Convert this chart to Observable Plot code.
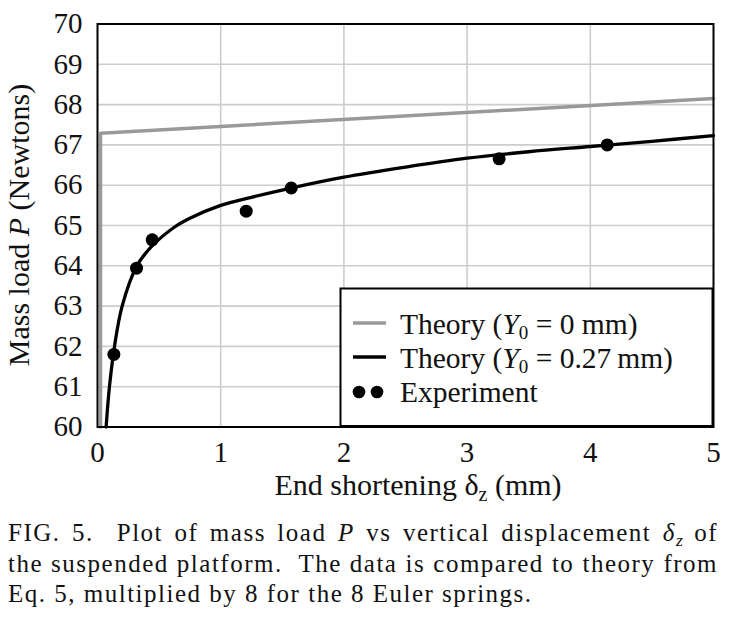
<!DOCTYPE html>
<html><head><meta charset="utf-8">
<script src="https://cdn.jsdelivr.net/npm/d3@7"></script>
<script src="https://cdn.jsdelivr.net/npm/@observablehq/plot@0.6"></script>
<style>
html,body{margin:0;padding:0;background:#fff;}
body{width:731px;height:620px;overflow:hidden;position:relative;}
#chart svg{display:block;}
#caption{position:absolute;left:8px;top:518px;width:710px;font-size:25px;line-height:30.5px;letter-spacing:1.5px;color:#111;}
#caption .j{text-align:justify;text-align-last:justify;}
#caption sub{font-size:70%;line-height:0;vertical-align:baseline;position:relative;top:0.3em;letter-spacing:0;}
</style></head>
<body>
<div id="chart"></div>
<div id="caption" style="font-family:'Liberation Serif','Times New Roman',serif;">
<div class="j">FIG. 5.&nbsp; Plot of mass load <i>P</i> vs vertical displacement <i>δ<sub>z</sub></i> of</div>
<div class="j">the suspended platform.&nbsp; The data is compared to theory from</div>
<div>Eq. 5, multiplied by 8 for the 8 Euler springs.</div>
</div>
<script>
// tick values
const xTicks = [0, 1, 2, 3, 4, 5];
const yTicks = [60, 61, 62, 63, 64, 65, 66, 67, 68, 69, 70];
// Theory (Y0 = 0 mm)
const theory0D = [0.025, 0.025, 5.0];
const theory0P = [60, 67.29, 68.15];
// Theory (Y0 = 0.27 mm)
const theory27D = [0.07, 0.097, 0.138, 0.2, 0.32, 0.43, 0.62, 0.75, 1.0, 1.25, 1.57, 2.0, 2.5, 3.0, 3.5, 4.0, 4.5, 5.0];
const theory27P = [60, 61, 62, 63, 64, 64.45, 64.95, 65.18, 65.5, 65.7, 65.93, 66.2, 66.45, 66.67, 66.83, 66.96, 67.09, 67.23];
// Experiment
const expD = [0.133, 0.317, 0.444, 1.207, 1.573, 3.26, 4.137];
const expP = [61.8, 63.94, 64.645, 65.355, 65.93, 66.655, 67.0];

const t0 = theory0D.map((d, i) => ({d, p: theory0P[i]}));
const t27 = theory27D.map((d, i) => ({d, p: theory27P[i]}));
const ex = expD.map((d, i) => ({d, p: expP[i]}));

const W = 731, H = 512;
const chart = Plot.plot({
  width: W, height: H,
  marginLeft: 97, marginRight: 18, marginTop: 23.5, marginBottom: 85.5,
  style: {fontFamily: "Liberation Serif, serif", fontSize: "29px", color: "#111", background: "#fff"},
  x: {domain: [0, 5], label: null},
  y: {domain: [60, 70], label: null},
  marks: [
    Plot.gridX(xTicks.slice(1, -1), {stroke: "#cdcdcd", strokeOpacity: 1, strokeWidth: 1.6}),
    Plot.gridY(yTicks.slice(1, -1), {stroke: "#cdcdcd", strokeOpacity: 1, strokeWidth: 1.6}),
    Plot.axisX(xTicks, {tickSize: 0, tickPadding: 14, fontSize: 29, label: null, tickFormat: d3.format("d")}),
    Plot.axisY(yTicks, {tickSize: 0, tickPadding: 15, fontSize: 29, label: null, tickFormat: d3.format("d")}),
    Plot.line(t0, {x: "d", y: "p", stroke: "#999", strokeWidth: 3.4}),
    Plot.line(t27, {x: "d", y: "p", stroke: "#000", strokeWidth: 3.3, curve: "catmull-rom"}),
    Plot.dot(ex, {x: "d", y: "p", r: 6.5, fill: "#000", stroke: "none"}),
    Plot.frame({stroke: "#000", strokeWidth: 2})
  ]
});
document.getElementById("chart").appendChild(chart);

const svg = d3.select(chart);
const FF = "Liberation Serif, serif";

// y-axis label
const yl = svg.append("text")
  .attr("transform", "translate(29,225) rotate(-90)")
  .attr("text-anchor", "middle").attr("font-family", FF).attr("font-size", 30).attr("fill", "#111");
yl.append("tspan").text("Mass load ");
yl.append("tspan").attr("font-style", "italic").text("P");
yl.append("tspan").text(" (Newtons)");

// x-axis label
const xl = svg.append("text")
  .attr("x", 418).attr("y", 495)
  .attr("text-anchor", "middle").attr("font-family", FF).attr("font-size", 30).attr("fill", "#111");
xl.append("tspan").text("End shortening δ");
xl.append("tspan").attr("font-size", 20).attr("dy", 6).text("z");
xl.append("tspan").attr("dy", -6).text(" (mm)");

// legend
const lg = svg.append("g").attr("text-anchor", "start");
lg.append("rect").attr("x", 340.5).attr("y", 288.5).attr("width", 372).attr("height", 137.5)
  .attr("fill", "#fff").attr("stroke", "#000").attr("stroke-width", 2);
const rows = [
  {y: 323, kind: "line", color: "#999", val: "0 mm"},
  {y: 357, kind: "line", color: "#000", val: "0.27\u2009mm"},
  {y: 392, kind: "dots", color: "#000"}
];
rows.forEach((r) => {
  if (r.kind === "line") {
    lg.append("line").attr("x1", 353).attr("x2", 386).attr("y1", r.y).attr("y2", r.y)
      .attr("stroke", r.color).attr("stroke-width", 3.3);
    const t = lg.append("text").attr("x", 400).attr("y", r.y + 10.5).attr("text-anchor", "start")
      .attr("font-family", FF).attr("font-size", 29.5).attr("fill", "#111");
    t.append("tspan").text("Theory (");
    t.append("tspan").attr("font-style", "italic").text("Y");
    t.append("tspan").attr("font-size", 19).attr("dy", 5).text("0");
    t.append("tspan").attr("dy", -5).text(" = " + r.val + ")");
  } else {
    [359, 377].forEach(cx => lg.append("circle").attr("cx", cx).attr("cy", r.y).attr("r", 6.3).attr("fill", "#000"));
    lg.append("text").attr("x", 400).attr("y", r.y + 10).attr("text-anchor", "start")
      .attr("font-family", FF).attr("font-size", 29.5).attr("fill", "#111").text("Experiment");
  }
});
</script>
</body></html>
